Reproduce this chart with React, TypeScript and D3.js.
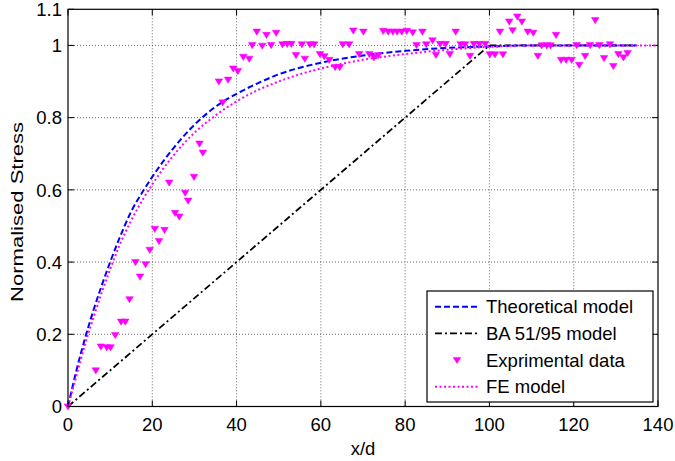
import React from "react";
import * as d3 from "d3";

const theoryX = [0, 2, 4, 6, 8, 10, 12, 15, 18, 20, 25, 30, 35, 40, 45, 50, 55, 60, 70, 80, 90, 100, 110, 135];
const theoryY = [0, 0.1, 0.187, 0.265, 0.335, 0.4, 0.46, 0.54, 0.6, 0.636, 0.715, 0.78, 0.83, 0.866, 0.895, 0.92, 0.938, 0.952, 0.972, 0.985, 0.993, 0.997, 1.0, 1.0];

const feX = [0, 2, 4, 6, 8, 10, 12, 15, 18, 20, 25, 30, 35, 40, 45, 50, 55, 60, 70, 80, 90, 100, 110, 140];
const feY = [0, 0.085, 0.17, 0.245, 0.315, 0.38, 0.44, 0.515, 0.578, 0.615, 0.695, 0.758, 0.806, 0.845, 0.876, 0.9, 0.92, 0.936, 0.96, 0.976, 0.988, 0.996, 1.0, 1.0];

const baX = [0, 100, 135];
const baY = [0, 1, 1];

const expX = [0, 6.6, 7.8, 9.2, 10.1, 11.2, 12.6, 13.6, 14.6, 16.0, 17.1, 18.4, 19.4, 20.6, 21.6, 22.9, 24.0, 25.4, 26.4, 27.8, 28.5, 29.9, 31.2, 32.0, 35.8, 36.7, 38.0, 39.2, 40.3, 41.6, 43.0, 43.7, 44.8, 46.1, 47.1, 48.2, 49.4, 50.9, 52.0, 53.0, 54.1, 55.5, 56.2, 57.4, 58.4, 59.8, 60.8, 62.0, 63.4, 64.5, 65.2, 66.7, 67.7, 69.1, 70.1, 71.5, 72.6, 73.6, 74.8, 76.0, 77.1, 78.1, 79.2, 80.4, 81.8, 82.7, 84.1, 85.0, 86.5, 87.3, 88.3, 89.6, 90.6, 92.0, 93.2, 94.2, 95.4, 96.3, 97.6, 99.0, 100.1, 101.3, 103.2, 102.5, 104.7, 105.5, 106.6, 107.7, 109.1, 110.4, 111.5, 112.4, 113.6, 114.5, 115.8, 117.0, 118.2, 119.5, 120.7, 121.3, 122.7, 123.9, 125.1, 126.1, 127.2, 128.6, 129.4, 130.6, 131.8, 132.8];
const expY = [0, 0.10, 0.166, 0.164, 0.164, 0.198, 0.235, 0.235, 0.297, 0.40, 0.36, 0.394, 0.434, 0.492, 0.458, 0.489, 0.62, 0.536, 0.526, 0.592, 0.57, 0.636, 0.728, 0.703, 0.90, 0.842, 0.905, 0.936, 0.929, 0.968, 0.963, 1.001, 1.038, 0.999, 1.029, 1.001, 1.035, 1.003, 1.004, 1.004, 0.973, 1.003, 0.963, 1.003, 1.003, 0.976, 0.97, 0.96, 0.94, 0.94, 1.003, 1.003, 1.041, 0.976, 1.038, 0.976, 0.967, 0.973, 1.04, 1.038, 1.038, 1.038, 1.038, 1.04, 1.036, 1.001, 1.038, 1.003, 1.014, 0.974, 1.004, 1.004, 0.976, 1.038, 1.003, 1.003, 0.971, 1.004, 1.004, 1.004, 0.975, 0.975, 0.975, 1.038, 1.066, 1.042, 1.08, 1.066, 1.038, 1.035, 0.971, 1.0, 1.0, 1.0, 1.029, 0.96, 0.96, 0.96, 1.001, 0.946, 0.971, 1.001, 1.07, 1.001, 0.965, 1.003, 0.943, 0.976, 0.967, 0.979];

const xTicks = [0, 20, 40, 60, 80, 100, 120, 140];
const yTicks = [0, 0.2, 0.4, 0.6, 0.8, 1, 1.1];
const yGrid = [0.2, 0.4, 0.6, 0.8, 1];
const xGrid = [20, 40, 60, 80, 100, 120];

const legendLabels = ["Theoretical model", "BA 51/95 model", "Exprimental data", "FE model"];

const W = 675, H = 461;
const L = 68, R = 658, T = 9.3, B = 406.5;
const FONT = "'Liberation Sans', Arial, Helvetica, sans-serif";

export default function App() {
  const x = d3.scaleLinear().domain([0, 140]).range([L, R]);
  const y = d3.scaleLinear().domain([0, 1.1]).range([B, T]);
  const smooth = d3.line<[number, number]>().x(d => x(d[0])).y(d => y(d[1])).curve(d3.curveMonotoneX);
  const straight = d3.line<[number, number]>().x(d => x(d[0])).y(d => y(d[1]));
  const zip = (a: number[], b: number[]) => a.map((v, i) => [v, b[i]] as [number, number]);
  const tri = "M-3.8,-2.6L3.8,-2.6L0,3.6Z";
  const MAG = "#ff00ff";

  const legX0 = 427, legY0 = 291, legW = 226, legH = 111;
  const rowY = [306.7, 333.3, 360, 386.7];

  return (
    <svg width={W} height={H} style={{ position: "absolute", left: 0, top: 0, background: "#fff" }} fontFamily={FONT}>
      <rect x={0} y={0} width={W} height={H} fill="#fff" />
      {xGrid.map(v => (
        <line key={"gx" + v} x1={x(v)} x2={x(v)} y1={T} y2={B} stroke="#444" strokeWidth={0.8} strokeDasharray="1 2" />
      ))}
      {yGrid.map(v => (
        <line key={"gy" + v} x1={L} x2={R} y1={y(v)} y2={y(v)} stroke="#444" strokeWidth={0.8} strokeDasharray="1 2" />
      ))}
      {xTicks.map(v => (
        <g key={"xt" + v}>
          <line x1={x(v)} x2={x(v)} y1={B} y2={B - 6} stroke="#000" />
          <line x1={x(v)} x2={x(v)} y1={T} y2={T + 6} stroke="#000" />
          <text x={x(v)} y={431} fontSize={18.5} textAnchor="middle">{v}</text>
        </g>
      ))}
      {yTicks.map(v => (
        <g key={"yt" + v}>
          <line x1={L} x2={L + 6} y1={y(v)} y2={y(v)} stroke="#000" />
          <line x1={R} x2={R - 6} y1={y(v)} y2={y(v)} stroke="#000" />
          <text x={62} y={y(v)} dy="0.36em" fontSize={18.5} textAnchor="end">{String(v)}</text>
        </g>
      ))}
      <path d={straight(zip(baX, baY)) || ""} fill="none" stroke="#000" strokeWidth={1.8} strokeDasharray="7 3 2 3" />
      <path d={smooth(zip(theoryX, theoryY)) || ""} fill="none" stroke="#0000ff" strokeWidth={2} strokeDasharray="6 3" />
      <path d={smooth(zip(feX, feY)) || ""} fill="none" stroke={MAG} strokeWidth={2} strokeDasharray="2 2.5" />
      {expX.map((v, i) => (
        <path key={"m" + i} d={tri} transform={`translate(${x(v)},${y(expY[i])})`} fill={MAG} stroke={MAG} strokeWidth={0.5} />
      ))}
      <rect x={L} y={T} width={R - L} height={B - T} fill="none" stroke="#000" strokeWidth={1.2} />
      <text x={(L + R) / 2} y={455} fontSize={18.5} textAnchor="middle">x/d</text>
      <text transform={`translate(22.5,${(T + B) / 2 + 4}) rotate(-90)`} fontSize={17} textAnchor="middle" textLength={180} lengthAdjust="spacingAndGlyphs">Normalised Stress</text>
      <rect x={legX0} y={legY0} width={legW} height={legH} fill="#fff" stroke="#000" strokeWidth={1.2} />
      <line x1={435} x2={478} y1={rowY[0]} y2={rowY[0]} stroke="#0000ff" strokeWidth={2} strokeDasharray="6 3" />
      <line x1={435} x2={478} y1={rowY[1]} y2={rowY[1]} stroke="#000" strokeWidth={1.8} strokeDasharray="7 3 2 3" />
      <path d={tri} transform={`translate(457,${rowY[2]})`} fill={MAG} stroke={MAG} strokeWidth={0.5} />
      <line x1={435} x2={478} y1={rowY[3]} y2={rowY[3]} stroke={MAG} strokeWidth={2} strokeDasharray="2 2.5" />
      {legendLabels.map((t, i) => (
        <text key={t} x={486} y={rowY[i]} dy="0.36em" fontSize={18.5}>{t}</text>
      ))}
    </svg>
  );
}
